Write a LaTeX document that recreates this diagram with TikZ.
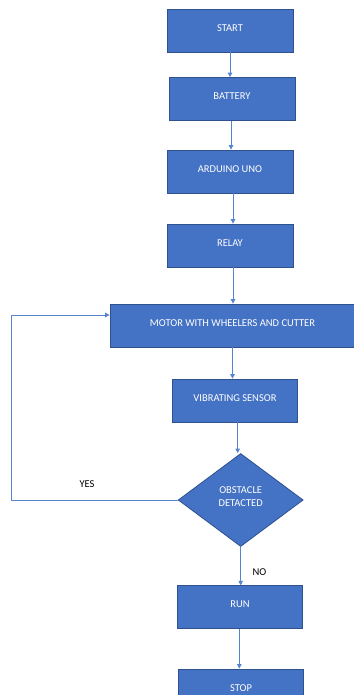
\documentclass[tikz,border=0pt]{standalone}
\usepackage{fontspec}
\setmainfont{Carlito}
\usetikzlibrary{shapes.geometric,arrows.meta,calc}
\definecolor{boxfill}{HTML}{4472C4}
\definecolor{boxline}{HTML}{2F528F}
\definecolor{linkc}{HTML}{5585D0}
\tikzset{
  procbox/.style={draw=boxline, line width=0.8pt, fill=boxfill, text=white,
    minimum height=43pt, inner sep=0pt, font=\fontsize{10.5}{12}\selectfont},
  decbox/.style={diamond, draw=boxline, line width=0.8pt, fill=boxfill, text=white,
    minimum width=125pt, minimum height=93pt, inner sep=0pt, aspect=1.34,
    align=center, font=\fontsize{10.5}{14}\selectfont},
  link/.style={draw=linkc, line width=0.9pt, -{Triangle[width=4.5pt,length=4.5pt]}},
  lbl/.style={text=black, font=\fontsize{10.5}{12}\selectfont, inner sep=0pt}
}
\begin{document}
\begin{tikzpicture}[x=1pt,y=-1pt]
\useasboundingbox[fill=white] (0,0) rectangle (353,695);
\node[procbox, minimum width=126pt] (start) at (230,30.5) {\raisebox{5pt}{START}};
\node[procbox, minimum width=126pt] (battery) at (232,99) {\raisebox{5pt}{BATTERY}};
\node[procbox, minimum width=126pt] (arduino) at (230,171.5) {\raisebox{5pt}{ARDUINO UNO}};
\node[procbox, minimum width=126pt] (relay) at (230,245.5) {\raisebox{5pt}{RELAY}};
\node[procbox, minimum width=245pt] (motor) at (232.5,325.5) {\raisebox{5pt}{MOTOR WITH WHEELERS AND CUTTER}};
\node[procbox, minimum width=125.5pt] (vib) at (235,400.5) {\raisebox{5pt}{VIBRATING SENSOR}};
\node[decbox] (dec) at (240.7,500) {\raisebox{7pt}{\shortstack{OBSTACLE\\[3pt]DETACTED}}};
\node[procbox, minimum width=125.5pt, minimum height=42.5pt] (run) at (240,607) {\raisebox{5pt}{RUN}};
\node[procbox, minimum width=125.5pt] (stop) at (241,690.5) {\raisebox{5pt}{STOP}};
\coordinate (lefttop) at (11,315);
\coordinate (leftbot) at (11,500);
\node[lbl] (yes) at (87,484.5) {YES};
\node[lbl] (no) at (259.5,572) {NO};

\draw[link] (start.south) -- (start.south |- battery.north);
\draw[link] ([xshift=-1pt]battery.south) -- ([xshift=-1pt]battery.south |- arduino.north);
\draw[link] ([xshift=3pt]arduino.south) -- ([xshift=3pt]arduino.south |- relay.north);
\draw[link] ([xshift=3pt]relay.south) -- ([xshift=3pt]relay.south |- motor.north);
\draw[link] (motor.south) -- (motor.south |- vib.north);
\draw[link] ([xshift=2.7pt]vib.south) -- ([xshift=2.7pt]vib.south |- dec.north);
\draw[link] (dec.south) -- (dec.south |- run.north);
\draw[link] ([xshift=-0.7pt]run.south) -- ([xshift=-0.7pt]run.south |- stop.north);
\draw[link] (dec.west) -- (leftbot) -- (lefttop) -- (lefttop -| motor.west);
\end{tikzpicture}
\end{document}
